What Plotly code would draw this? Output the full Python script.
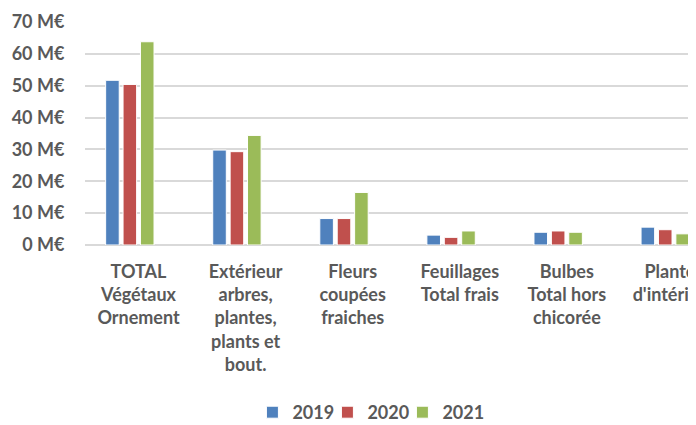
import plotly.graph_objects as go

categories = [
    "TOTAL<br>Végétaux<br>Ornement",
    "Extérieur<br>arbres,<br>plantes,<br>plants et<br>bout.",
    "Fleurs<br>coupées<br>fraiches",
    "Feuillages<br>Total frais",
    "Bulbes<br>Total hors<br>chicorée",
    "Plantes<br>d'intérieur",
]
years = ["2019", "2020", "2021"]
values_2019 = [51.7, 29.8, 8.3, 3.1, 4.0, 5.6]
values_2020 = [50.4, 29.3, 8.3, 2.4, 4.4, 4.8]
values_2021 = [63.8, 34.4, 16.5, 4.4, 4.0, 3.5]
y_ticks = [0, 10, 20, 30, 40, 50, 60, 70]
y_labels = [f"{v} M€" for v in y_ticks]

colors = ["#4F81BD", "#C0504D", "#9BBB59"]
grey = "#595959"
font_family = "Lato, 'Liberation Sans Narrow', sans-serif"

fig = go.Figure()
for name, vals, col in zip(years, [values_2019, values_2020, values_2021], colors):
    fig.add_trace(go.Bar(
        x=list(range(len(categories))),
        y=vals,
        name=name,
        marker=dict(color=col, line=dict(color="white", width=1)),
    ))

# empty entry so the last legend label isn't clipped
fig.add_trace(go.Bar(x=[None], y=[None], name=" ",
                     marker=dict(color="rgba(0,0,0,0)", line=dict(width=0)),
                     hoverinfo="skip"))

# the page body has an 8px margin, so the figure is 8px smaller than the window
fig.update_layout(
    width=688,
    height=417,
    barmode="group",
    bargap=0.35,
    bargroupgap=0.22,
    plot_bgcolor="white",
    paper_bgcolor="white",
    margin=dict(l=77, r=0, t=14, b=180),
    font=dict(family=font_family, color=grey, size=18, weight="bold"),
    legend=dict(
        orientation="h",
        x=0.274, xanchor="left",
        yref="container",
        y=0.03, yanchor="middle",
        font=dict(size=18, color=grey, weight="bold"),
        itemwidth=30,
        entrywidth=30,
        entrywidthmode="pixels",
    ),
)

fig.update_xaxes(
    tickmode="array",
    tickvals=list(range(len(categories))),
    ticktext=categories,
    range=[-0.5, 5.206],
    showgrid=False,
    showline=False,
    ticks="outside",
    ticklen=10,
    tickcolor="white",
    tickangle=0,
    automargin=False,
    ticklabeloverflow="allow",
    tickfont=dict(size=18, color=grey, weight="bold"),
)

fig.update_yaxes(
    range=[0, 70],
    tickmode="array",
    tickvals=y_ticks,
    ticktext=y_labels,
    showgrid=True,
    gridcolor="#D9D9D9",
    gridwidth=1.5,
    zeroline=True,
    zerolinecolor="#D9D9D9",
    zerolinewidth=1.5,
    automargin=False,
    ticks="outside",
    ticklen=16,
    tickcolor="white",
    tickfont=dict(size=18, color=grey, weight="bold"),
)

fig.write_html("out.html")
